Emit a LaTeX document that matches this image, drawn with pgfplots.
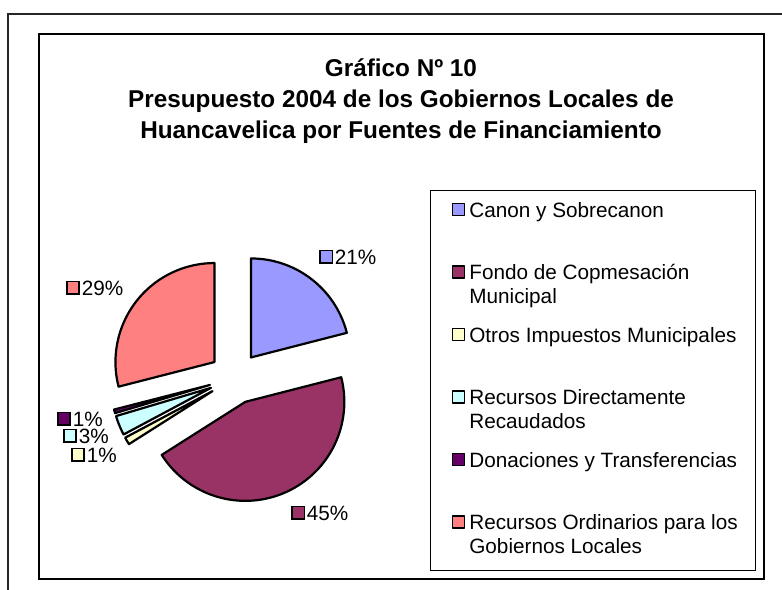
\documentclass[border=0pt]{standalone}
\usepackage{pgfplots}
\pgfplotsset{compat=1.18}
\usepackage{fontspec}
\setmainfont{Liberation Sans}

\definecolor{cCanon}{HTML}{9999FF}
\definecolor{cFondo}{HTML}{993366}
\definecolor{cOtros}{HTML}{FFFFCC}
\definecolor{cRDR}{HTML}{CCFFFF}
\definecolor{cDon}{HTML}{660066}
\definecolor{cOrd}{HTML}{FF8080}

% pie geometry (picture units = bp, y upwards)
\def\pcx{235}\def\pcy{212}\def\pR{99}\def\pd{26}

% shares in percent
\def\vCanon{21}
\def\vFondo{45}
\def\vOtros{1.2}
\def\vRDR{3.2}
\def\vDon{0.6}
\def\vOrd{29}

\newcommand\slice[3]{% #1 cumulative start (%), #2 value (%), #3 colour
  \pgfmathsetmacro\aS{90-3.6*(#1)}%
  \pgfmathsetmacro\aE{90-3.6*((#1)+(#2))}%
  \pgfmathsetmacro\aM{90-3.6*((#1)+(#2)/2)}%
  \pgfmathsetmacro\scx{\pcx+\pd*cos(\aM)}%
  \pgfmathsetmacro\scy{\pcy+\pd*sin(\aM)}%
  \edef\tmp{\noexpand\addplot[fill=#3, draw=black, line width=2.2bp, line join=round,
      domain=\aE:\aS, samples=90]
    ({\scx+\pR*cos(x)},{\scy+\pR*sin(x)}) -- (axis cs:\scx,\scy) -- cycle;}%
  \tmp
}
\newcommand\sq[1]{\raisebox{2.2bp}{\setlength\fboxsep{0pt}\setlength\fboxrule{1.8bp}\fcolorbox{black}{#1}{\rule{0pt}{10.5bp}\hspace{10.5bp}}}}
\newcommand\lent[1]{\makebox[265bp][l]{\begin{tabular}[t]{@{}l@{}}#1\end{tabular}}}

\begin{document}
\begin{tikzpicture}
\begin{axis}[
  at={(0,0)}, anchor=south west,
  width=782bp, height=590bp, scale only axis,
  xmin=0, xmax=782, ymin=0, ymax=590,
  hide axis, clip=false,
  title={Gráfico Nº 10\\Presupuesto 2004 de los Gobiernos Locales de\\Huancavelica por Fuentes de Financiamiento},
  title style={at={(401/782,483/590)}, anchor=center, align=center,
    font=\fontsize{24.4}{31.5}\selectfont\bfseries, inner sep=0pt},
  legend cell align=left,
  legend image code/.code={\draw[#1, draw=black, line width=1.8bp] (0bp,8.8bp) rectangle (12bp,20.8bp);},
  legend style={at={(430/782,400/590)}, anchor=north west, draw=black, line width=1.1bp,
    inner xsep=21bp, inner ysep=9.3bp, row sep=13.5bp,
    font=\fontsize{20.8}{24.5}\selectfont,
    cells={anchor=west},
    nodes={inner sep=0pt, line width=0.4pt, text height=17.15bp, text depth=31.85bp},
    /tikz/column 1/.style={column sep=4bp}},
]
% frames
\draw[line width=2bp, draw=black!85] (axis cs:8,-20) -- (axis cs:8,576) -- (axis cs:800,576);
\draw[line width=1.5bp, draw=black] (axis cs:39,11) rectangle (axis cs:764,556);

\slice{0}{\vCanon}{cCanon}
\addlegendentry{\lent{Canon y Sobrecanon}}
\slice{\vCanon}{\vFondo}{cFondo}
\addlegendentry{\lent{Fondo de Copmesación\\Municipal}}
\slice{\vCanon+\vFondo}{\vOtros}{cOtros}
\addlegendentry{\lent{Otros Impuestos Municipales}}
\slice{\vCanon+\vFondo+\vOtros}{\vRDR}{cRDR}
\addlegendentry{\lent{Recursos Directamente\\Recaudados}}
\slice{\vCanon+\vFondo+\vOtros+\vRDR}{\vDon}{cDon}
\addlegendentry{\lent{Donaciones y Transferencias}}
\slice{\vCanon+\vFondo+\vOtros+\vRDR+\vDon}{\vOrd}{cOrd}
\addlegendentry{\lent{Recursos Ordinarios para los\\Gobiernos Locales}}

% data labels
\begin{scope}[every node/.style={anchor=west, inner sep=0pt, font=\fontsize{20.8}{24.5}\selectfont}]
\node at (axis cs:319,333) {\sq{cCanon}\hspace{1.5bp}21\%};
\node at (axis cs:291,77) {\sq{cFondo}\hspace{1.5bp}45\%};
\node at (axis cs:66,302) {\sq{cOrd}\hspace{1.5bp}29\%};
\node at (axis cs:57,171) {\sq{cDon}\hspace{1.5bp}1\%};
\node at (axis cs:63,154) {\sq{cRDR}\hspace{1.5bp}3\%};
\node at (axis cs:71,135) {\sq{cOtros}\hspace{1.5bp}1\%};
\end{scope}
\end{axis}
\pgfresetboundingbox
\path (0,0) rectangle (782bp,590bp);
\end{tikzpicture}
\end{document}
